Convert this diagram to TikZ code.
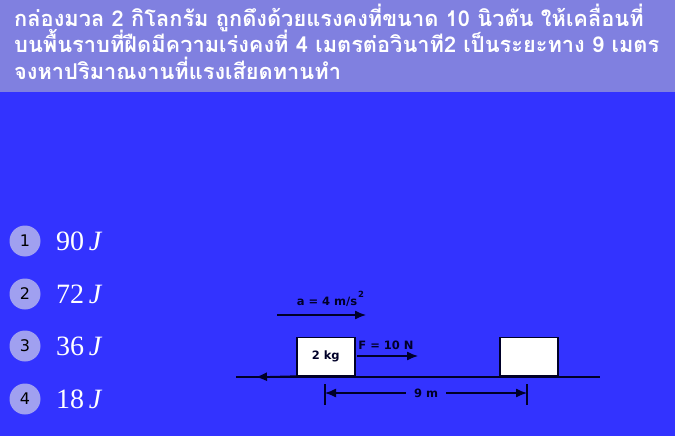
\documentclass[tikz,border=0pt]{standalone}
\usepackage{fontspec}
\usepackage{tikz}
\usetikzlibrary{positioning,arrows.meta}
\setsansfont{DejaVu Sans}
\newfontfamily\thaifont[Script=Thai]{Loma}
\newfontfamily\ansfont{Liberation Serif}
\definecolor{headbg}{RGB}{128,128,224}
\definecolor{mainbg}{RGB}{51,51,255}
\definecolor{bullet}{RGB}{160,160,240}
\definecolor{ink}{RGB}{0,0,40}
\tikzstyle{every node}=[inner sep=0pt]
\tikzstyle{qline}=[anchor=base west,text=white,font=\thaifont\bfseries\fontsize{21.8}{26}\selectfont]
\tikzstyle{ball}=[circle,fill=bullet,minimum size=31pt,font=\sffamily\fontsize{16}{16}\selectfont]
\tikzstyle{ans}=[anchor=west,text=white,font=\ansfont\fontsize{28}{28}\selectfont]
\tikzstyle{lbl}=[text=ink,font=\sffamily\bfseries\fontsize{11.5}{11.5}\selectfont]
\tikzstyle{block}=[draw=ink,fill=white,line width=1.5pt,minimum width=58pt,minimum height=38pt]
\tikzstyle{vec}=[ink,line width=1.3pt,-{Latex[length=11pt,width=9pt]}]

\begin{document}
\begin{tikzpicture}[x=1pt,y=-1pt]
	\useasboundingbox (0,0) rectangle (675,436);
	\fill[mainbg] (0,0) rectangle (675,436);
	\fill[headbg] (0,0) rectangle (675,92);

	% question
	\node(l1)[qline] at (14,27){กล่องมวล 2 กิโลกรัม ถูกดึงด้วยแรงคงที่ขนาด 10 นิวตัน ให้เคลื่อนที่};
	\node(l2)[qline] at (14,53){บนพื้นราบที่ฝืดมีความเร่งคงที่ 4 เมตรต่อวินาที2 เป็นระยะทาง 9 เมตร};
	\node(l3)[qline] at (14,80){จงหาปริมาณงานที่แรงเสียดทานทำ};

	% choices
	\node(c1)[ball] at (25,241){1};
	\node(a1)[ans] at (56,241){90\,\textit{J}};
	\node(c2)[ball] at (25,294){2};
	\node(a2)[ans] at (56,294){72\,\textit{J}};
	\node(c3)[ball] at (25,346){3};
	\node(a3)[ans] at (56,346){36\,\textit{J}};
	\node(c4)[ball] at (25,399){4};
	\node(a4)[ans] at (56,399){18\,\textit{J}};

	% sketch
	\node(b1)[block,anchor=south west] at (296,376){};
	\node(m)[lbl] at (b1.center){2 kg};
	\node(b2)[block,anchor=south west] at (499,376){};
	\coordinate (g0) at (236,377);
	\coordinate (g1) at (600,377);
	\coordinate (fr) at (256,377);
	\draw[ink,line width=1.3pt] (g0) -- (g1);
	\draw[vec] (b1.south west) -- (fr);

	\coordinate (f0) at (357,356);
	\coordinate (f1) at (418,356);
	\draw[vec] (f0) -- (f1);
	\node(fl)[lbl] at (386,345){F = 10 N};

	\coordinate (p0) at (277,315);
	\coordinate (p1) at (366,315);
	\draw[vec] (p0) -- (p1);
	\node(al)[lbl] at (327,302){a = 4 m/s};
	\node(sq)[lbl,font=\sffamily\bfseries\fontsize{8.5}{8.5}\selectfont,anchor=south west] at ([xshift=0.5pt,yshift=-1pt]al.north east){2};

	\coordinate (t0) at (325,384);
	\coordinate (t1) at (325,405);
	\coordinate (t2) at (527,384);
	\coordinate (t3) at (527,405);
	\draw[ink,line width=1.3pt] (t0) -- (t1) (t2) -- (t3);
	\node(dl)[lbl] at (426,393){9 m};
	\draw[vec] ([xshift=-8pt]dl.west) -- (325,393);
	\draw[vec] ([xshift=8pt]dl.east) -- (527,393);
\end{tikzpicture}
\end{document}
